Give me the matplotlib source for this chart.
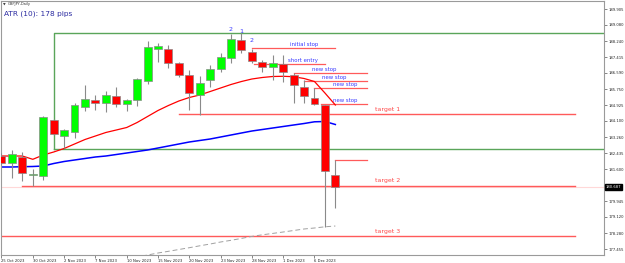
import matplotlib
matplotlib.use("Agg")
import matplotlib.pyplot as plt
from matplotlib.transforms import blended_transform_factory

# ---------------- data ----------------
dates = ["25 Oct", "26 Oct", "27 Oct", "30 Oct", "31 Oct", "1 Nov", "2 Nov", "3 Nov",
         "6 Nov", "7 Nov", "8 Nov", "9 Nov", "10 Nov", "13 Nov", "14 Nov", "15 Nov",
         "16 Nov", "17 Nov", "20 Nov", "21 Nov", "22 Nov", "23 Nov", "24 Nov", "27 Nov",
         "28 Nov", "29 Nov", "30 Nov", "1 Dec", "4 Dec", "5 Dec", "6 Dec", "7 Dec", "8 Dec"]

opens  = [182.305, 181.932, 182.243, 181.294, 181.268, 184.147, 183.317, 183.509,
          184.837, 185.169, 185.013, 185.392, 184.961, 185.169, 186.186, 187.830,
          187.830, 187.088, 186.481, 185.444, 186.222, 186.777, 187.348, 188.297,
          187.690, 187.171, 186.912, 187.052, 186.481, 185.843, 185.273, 184.925, 181.294]
highs  = [182.435, 182.591, 182.471, 181.590, 184.329, 184.173, 183.696, 185.029,
          185.963, 185.444, 185.651, 185.843, 185.262, 186.326, 188.245, 188.126,
          188.038, 187.171, 186.741, 186.430, 187.000, 187.607, 188.608, 188.660,
          187.830, 187.260, 187.519, 187.519, 186.585, 186.222, 185.807, 184.951, 182.072]
lows   = [181.813, 181.123, 180.998, 180.749, 181.034, 183.369, 182.710, 183.229,
          184.614, 184.666, 184.562, 184.837, 184.629, 184.873, 185.999, 187.171,
          186.829, 186.352, 184.666, 184.432, 185.874, 186.637, 187.088, 187.638,
          187.088, 186.653, 186.222, 186.134, 185.044, 185.029, 184.951, 178.612, 179.566]
closes = [181.932, 182.368, 181.382, 181.356, 184.277, 183.405, 183.628, 184.941,
          185.236, 185.013, 185.444, 184.961, 185.200, 186.274, 187.934, 187.970,
          187.088, 186.481, 185.563, 186.051, 186.777, 187.431, 188.333, 187.778,
          187.208, 186.881, 187.088, 186.653, 185.963, 185.392, 184.977, 181.501, 180.687]

ma_fast = [182.279, 182.279, 182.279, 182.108, 182.331, 182.487, 182.669, 182.902,
           183.135, 183.317, 183.499, 183.628, 183.758, 184.017, 184.329, 184.640,
           184.899, 185.133, 185.314, 185.444, 185.625, 185.807, 185.989, 186.144,
           186.274, 186.352, 186.404, 186.414, 186.393, 186.300, 186.144, 185.548, 184.925]
ma_slow = [181.709, 181.709, 181.724, 181.735, 181.761, 181.890, 181.994, 182.072,
           182.150, 182.228, 182.279, 182.357, 182.435, 182.513, 182.591, 182.694,
           182.798, 182.902, 183.006, 183.084, 183.161, 183.265, 183.369, 183.473,
           183.576, 183.654, 183.732, 183.810, 183.888, 183.965, 184.054, 184.069, 183.914]
ma_long_start = 12
ma_long = [176.936, 177.040, 177.144, 177.247, 177.336, 177.429, 177.522, 177.621,
           177.714, 177.818, 177.906, 178.005, 178.109, 178.192, 178.264, 178.337,
           178.415, 178.493, 178.545, 178.607, 178.648]

box_top, box_bottom, box_start = 188.660, 182.627, 5

target_levels = [184.458, 180.749, 178.129]
target_starts = [17, 2, -1]
target_labels = ["target 1", "target 2", "target 3"]
target_end = 55

stop_levels = [187.866, 187.052, 186.570, 186.170, 185.791, 184.977]
stop_starts = [24, 24.2, 28, 29, 30, 30.6]
stop_ends = [32, 31, 35, 35, 35, 35]
stop_labels = ["initial stop", "short entry", "new stop", "new stop", "new stop", "new stop"]
stop_label_x = [27.65, 27.46, 29.76, 30.72, 31.77, 31.77]

high_level_after = 182.072  # line from last candle's high
swing_marks = ["2", "1", "2"]
swing_idx = [22, 23, 24]
swing_y = [188.842, 188.712, 188.271]

ytick_vals = [189.905, 189.080, 188.240, 187.415, 186.590, 185.750, 184.925, 184.100,
              183.260, 182.435, 181.600, 179.945, 179.120, 178.280, 177.455]
xtick_idx = [0, 3, 6, 9, 12, 15, 18, 21, 24, 27, 30]

# ---------------- figure ----------------
W, H = 625, 263
fig = plt.figure(figsize=(W / 100, H / 100), dpi=100)
ax = fig.add_axes([1.5 / W, 1 - 254.5 / H, (604 - 1.5) / W, 254 / H])
ax.set_xlim(0.05, 57.75)
ax.set_ylim(177.170, 190.346)

for s in ax.spines.values():
    s.set_color("#9a9a9a")
    s.set_linewidth(0.8)

n = len(dates)
idx = list(range(n))

# current price faint line
ax.axhline(closes[-1], color="#ffd8d8", lw=0.8, zorder=0.5)

# moving averages
ax.plot(idx, ma_slow, color="#0000ff", lw=1.1, zorder=2)
ax.plot(idx, ma_fast, color="#ff0000", lw=0.9, zorder=2)
ax.plot(list(range(ma_long_start, ma_long_start + len(ma_long))), ma_long,
        color="#a0a0a0", lw=0.7, ls=(0, (5, 3)), zorder=2)

# green box
ax.plot([box_start, box_start, 60], [box_bottom, box_top, box_top], color="#5aa55a", lw=1.0, zorder=1.5)
ax.plot([box_start, 60], [box_bottom, box_bottom], color="#5aa55a", lw=1.0, zorder=1.5)

line_red = "#ff5a5a"
# targets
for lv, st, lab in zip(target_levels, target_starts, target_labels):
    ax.plot([st, target_end], [lv, lv], color=line_red, lw=1.0, zorder=1.6)
    ax.text(35.79, lv + 0.12, lab, color="#ff4848", fontsize=4.5, ha="left", va="bottom", zorder=5)

# stops
for lv, st, en, lab, lx in zip(stop_levels, stop_starts, stop_ends, stop_labels, stop_label_x):
    ax.plot([st, en], [lv, lv], color=line_red, lw=0.9, zorder=1.6)
    ax.text(lx, lv + 0.06, lab, color="#3a3aff", fontsize=3.9, ha="left", va="bottom", zorder=5)

ax.plot([n - 1, 35], [high_level_after, high_level_after], color=line_red, lw=0.9, zorder=1.6)

for lab, i, y in zip(swing_marks, swing_idx, swing_y):
    ax.text(i, y, lab, color="#3a3aff", fontsize=4.6, ha="center", va="center", zorder=5)

# candles
bw = 0.76
for i in idx:
    o, h, l, c = opens[i], highs[i], lows[i], closes[i]
    ax.vlines(i, l, h, color="#8a8a8a", lw=0.8, zorder=3)
    col = "#00ff00" if c >= o else "#ff0000"
    bot = min(o, c)
    ht = max(abs(c - o), 0.04)
    ax.bar(i, ht, bottom=bot, width=bw, color=col, edgecolor="#8a8a8a", linewidth=0.5, zorder=4)

# axes ticks
ax.yaxis.tick_right()
ax.set_yticks(ytick_vals)
ax.set_yticklabels([f"{v:.3f}" for v in ytick_vals], fontsize=2.7, color="#222222")
ax.tick_params(axis="y", length=2, width=0.5, pad=1, colors="#555555", labelcolor="#222222")

ax.set_xticks(xtick_idx)
ax.set_xticklabels([dates[i] + " 2023" for i in xtick_idx], fontsize=2.7, ha="left", color="#222222")
ax.tick_params(axis="x", length=2, width=0.5, pad=1, colors="#555555", labelcolor="#222222")

# price box
tr = blended_transform_factory(ax.transAxes, ax.transData)
ax.text(1.003, closes[-1], f"{closes[-1]:.3f}", transform=tr, fontsize=2.7, color="white",
        ha="left", va="center", zorder=10, clip_on=False,
        bbox=dict(boxstyle="square,pad=0.3", fc="black", ec="black"))

# header texts
fig.text(3 / W, 1 - 4.5 / H, "\u25BC", fontsize=2.5, color="#333333", ha="left", va="center")
fig.text(8 / W, 1 - 4.5 / H, "GBPJPY,Daily", fontsize=2.6, color="#333333", ha="left", va="center")
fig.text(4 / W, 1 - 13.5 / H, "ATR (10): 178 pips", fontsize=5.3, color="#2a2aa0", ha="left", va="center")

fig.savefig("out.png", dpi=100, facecolor="white")
